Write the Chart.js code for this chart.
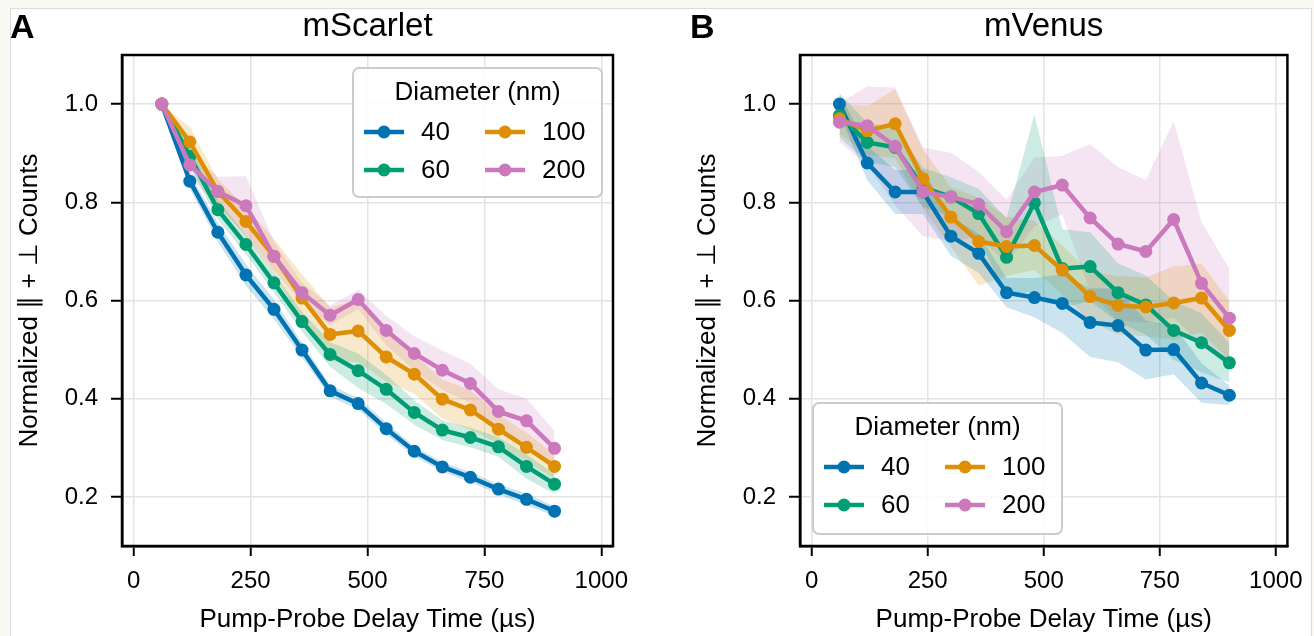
<!DOCTYPE html>
<html lang="en">

<head>
    <meta charset="UTF-8">
    <title>mScarlet / mVenus</title>
    <style>
        body { margin: 0; background: #faf9f4; width: 1314px; height: 636px; overflow: hidden; position: relative; }
        .folha { position: absolute; left: 10px; top: 8px; width: 1300px; height: 640px; background: #fff; border: 1px solid #dcdcdc; }
        canvas { position: absolute; top: 0; }
        #painelA { left: 0; }
        #painelB { left: 678px; }
    </style>
</head>

<body>
    <div class="folha"></div>
    <canvas id="painelA" width="657" height="636"></canvas>
    <canvas id="painelB" width="636" height="636"></canvas>

    <script src="https://cdn.jsdelivr.net/npm/chart.js"></script>
    <script>
        // delay times (us)
        const tempos = [60, 120, 180, 240, 300, 360, 420, 480, 540, 600, 660, 720, 780, 840, 900]
        const diametros = ['40', '60', '100', '200']
        const cores = ['#0173b2', '#029e73', '#de8f05', '#cc78bc']
        const xTicks = [0, 250, 500, 750, 1000]
        const yTicks = [0.2, 0.4, 0.6, 0.8, 1.0]

        // mScarlet
        const scarlet40 = [1.0, 0.843, 0.739, 0.652, 0.582, 0.499, 0.416, 0.390, 0.339, 0.293, 0.261, 0.240, 0.216, 0.195, 0.171]
        const scarlet60 = [1.0, 0.894, 0.785, 0.714, 0.636, 0.557, 0.490, 0.457, 0.419, 0.372, 0.336, 0.321, 0.302, 0.262, 0.226]
        const scarlet100 = [1.0, 0.923, 0.822, 0.761, 0.690, 0.605, 0.531, 0.538, 0.485, 0.450, 0.399, 0.377, 0.338, 0.301, 0.262]
        const scarlet200 = [1.0, 0.876, 0.822, 0.793, 0.690, 0.616, 0.570, 0.602, 0.539, 0.492, 0.458, 0.431, 0.374, 0.355, 0.299]
        const scarlet40Err = [0, 0.015, 0.02, 0.022, 0.02, 0.015, 0.012, 0.012, 0.012, 0.01, 0.01, 0.01, 0.01, 0.012, 0.01]
        const scarlet60Err = [0, 0.02, 0.02, 0.02, 0.02, 0.02, 0.025, 0.035, 0.03, 0.025, 0.02, 0.02, 0.02, 0.025, 0.02]
        const scarlet100Err = [0, 0.03, 0.025, 0.03, 0.035, 0.048, 0.055, 0.064, 0.05, 0.04, 0.04, 0.04, 0.03, 0.03, 0.025]
        const scarlet200Err = [0, 0.025, 0.03, 0.06, 0.03, 0.02, 0.02, 0.02, 0.03, 0.035, 0.04, 0.04, 0.045, 0.045, 0.035]

        // mVenus
        const venus40 = [1.0, 0.880, 0.821, 0.821, 0.731, 0.696, 0.616, 0.606, 0.594, 0.555, 0.549, 0.499, 0.500, 0.432, 0.407]
        const venus60 = [0.977, 0.922, 0.912, 0.830, 0.811, 0.777, 0.688, 0.799, 0.665, 0.669, 0.616, 0.591, 0.539, 0.514, 0.473]
        const venus100 = [0.970, 0.946, 0.960, 0.848, 0.770, 0.720, 0.710, 0.712, 0.662, 0.608, 0.590, 0.587, 0.595, 0.605, 0.539]
        const venus200 = [0.963, 0.956, 0.914, 0.821, 0.811, 0.796, 0.740, 0.821, 0.835, 0.768, 0.715, 0.700, 0.765, 0.635, 0.564]
        const venus40Err = [0.02, 0.035, 0.045, 0.045, 0.04, 0.04, 0.03, 0.04, 0.06, 0.07, 0.075, 0.06, 0.05, 0.04, 0.02]
        const venus60Err = [0.045, 0.04, 0.04, 0.04, 0.04, 0.05, 0.08, 0.18, 0.08, 0.07, 0.06, 0.06, 0.06, 0.06, 0.04]
        const venus100Err = [0.03, 0.05, 0.07, 0.06, 0.06, 0.09, 0.06, 0.05, 0.05, 0.05, 0.06, 0.06, 0.075, 0.07, 0.06]
        const venus200Err = [0.04, 0.08, 0.12, 0.09, 0.09, 0.066, 0.065, 0.07, 0.06, 0.15, 0.157, 0.145, 0.2, 0.125, 0.1]

        const fonte = "'Liberation Sans', Arial, sans-serif"

        const comAlfa = (hex, a) => {
            const n = parseInt(hex.slice(1), 16)
            return `rgba(${n >> 16}, ${(n >> 8) & 255}, ${n & 255}, ${a})`
        }

        // moldura preta nos 4 lados
        const moldura = {
            id: 'moldura',
            afterDraw(chart) {
                const { ctx, chartArea: a } = chart
                ctx.save()
                ctx.strokeStyle = '#000'
                ctx.lineWidth = 2.5
                ctx.strokeRect(a.left, a.top, a.right - a.left, a.bottom - a.top)
                ctx.restore()
            }
        }

        // letra do painel + titulo
        const cabecalho = {
            id: 'cabecalho',
            afterDraw(chart, args, opts) {
                const { ctx, chartArea: a } = chart
                ctx.save()
                ctx.fillStyle = '#000'
                ctx.textBaseline = 'alphabetic'
                ctx.font = `bold 34px ${fonte}`
                ctx.textAlign = 'left'
                ctx.fillText(opts.letra, opts.letraX, 38)
                ctx.font = `33px ${fonte}`
                ctx.textAlign = 'center'
                ctx.fillText(opts.titulo, (a.left + a.right) / 2, 36)
                ctx.restore()
            }
        }

        // legenda em 2 colunas com titulo
        const legenda = {
            id: 'legenda',
            afterDraw(chart, args, o) {
                const { ctx } = chart
                const linhas = chart.data.datasets.filter(d => d.serie)
                ctx.save()
                ctx.beginPath()
                ctx.roundRect(o.x, o.y, o.w, o.h, 6)
                ctx.fillStyle = 'rgba(255,255,255,0.85)'
                ctx.fill()
                ctx.strokeStyle = '#cccccc'
                ctx.lineWidth = 2
                ctx.stroke()

                ctx.fillStyle = '#000'
                ctx.font = `26px ${fonte}`
                ctx.textAlign = 'center'
                ctx.textBaseline = 'middle'
                ctx.fillText('Diameter (nm)', o.x + o.w / 2, o.y + 25)

                ctx.textAlign = 'left'
                linhas.forEach((d, i) => {
                    const col = Math.floor(i / 2)
                    const lin = i % 2
                    const x0 = o.x + 11 + col * 121
                    const y0 = o.y + 64 + lin * 38
                    ctx.strokeStyle = d.borderColor
                    ctx.lineWidth = 4.5
                    ctx.beginPath()
                    ctx.moveTo(x0, y0)
                    ctx.lineTo(x0 + 40, y0)
                    ctx.stroke()
                    ctx.fillStyle = d.borderColor
                    ctx.beginPath()
                    ctx.arc(x0 + 20, y0, 6.5, 0, Math.PI * 2)
                    ctx.fill()
                    ctx.fillStyle = '#000'
                    ctx.fillText(d.serie, x0 + 57, y0 + 1)
                })
                ctx.restore()
            }
        }

        const montarDatasets = (series, erros) => {
            const bandas = []
            const linhas = []
            series.forEach((vals, i) => {
                bandas.push({
                    data: tempos.map((t, k) => ({ x: t, y: vals[k] - erros[i][k] })),
                    borderWidth: 0, pointRadius: 0, fill: false, order: 10
                })
                bandas.push({
                    data: tempos.map((t, k) => ({ x: t, y: vals[k] + erros[i][k] })),
                    borderWidth: 0, pointRadius: 0, fill: '-1', order: 10,
                    backgroundColor: comAlfa(cores[i], 0.2)
                })
                linhas.push({
                    serie: diametros[i],
                    data: tempos.map((t, k) => ({ x: t, y: vals[k] })),
                    borderColor: cores[i],
                    backgroundColor: cores[i],
                    borderWidth: 4.5,
                    pointRadius: 6.5,
                    pointBorderWidth: 0,
                    pointBackgroundColor: cores[i],
                    fill: false,
                    order: 4 - i
                })
            })
            return bandas.concat(linhas)
        }

        const criarPainel = (id, letra, letraX, titulo, series, erros, padDireita, caixaLegenda) => {
            return new Chart(document.getElementById(id), {
                type: 'line',
                data: { datasets: montarDatasets(series, erros) },
                options: {
                    responsive: false,
                    animation: false,
                    layout: { padding: { top: 55, left: 0, right: padDireita, bottom: 0 } },
                    plugins: {
                        legend: { display: false },
                        tooltip: { enabled: false },
                        cabecalho: { letra: letra, letraX: letraX, titulo: titulo },
                        legenda: caixaLegenda
                    },
                    scales: {
                        x: {
                            type: 'linear',
                            min: -25,
                            max: 1025,
                            afterFit: s => { s.height = 90 },
                            afterBuildTicks: s => { s.ticks = xTicks.map(v => ({ value: v })) },
                            ticks: { color: '#000', font: { family: fonte, size: 24 }, padding: 11, callback: v => v },
                            grid: { color: '#e4e4e4', lineWidth: 1.5, tickColor: '#000', tickWidth: 2, tickLength: 10 },
                            border: { color: '#000', width: 2.5 },
                            title: { display: true, text: 'Pump-Probe Delay Time (µs)', color: '#000', font: { family: fonte, size: 26 }, padding: { top: 0, bottom: 1 } }
                        },
                        y: {
                            min: 0.1,
                            max: 1.1,
                            afterFit: s => { s.width = 122 },
                            afterBuildTicks: s => { s.ticks = yTicks.map(v => ({ value: v })) },
                            ticks: { color: '#000', font: { family: fonte, size: 24 }, padding: 13, callback: v => v.toFixed(1) },
                            grid: { color: '#e4e4e4', lineWidth: 1.5, tickColor: '#000', tickWidth: 2, tickLength: 11 },
                            border: { color: '#000', width: 2.5 },
                            title: { display: true, text: 'Normalized ∥ + ⊥ Counts', color: '#000', font: { family: fonte, size: 26 }, padding: { top: 14, bottom: 0 } }
                        }
                    }
                },
                plugins: [moldura, cabecalho, legenda]
            })
        }

        let graficoA = criarPainel('painelA', 'A', 10, 'mScarlet',
            [scarlet40, scarlet60, scarlet100, scarlet200],
            [scarlet40Err, scarlet60Err, scarlet100Err, scarlet200Err],
            44, { x: 353, y: 68, w: 249, h: 129 })

        let graficoB = criarPainel('painelB', 'B', 12, 'mVenus',
            [venus40, venus60, venus100, venus200],
            [venus40Err, venus60Err, venus100Err, venus200Err],
            21, { x: 135, y: 403, w: 249, h: 131 })
    </script>
</body>

</html>
